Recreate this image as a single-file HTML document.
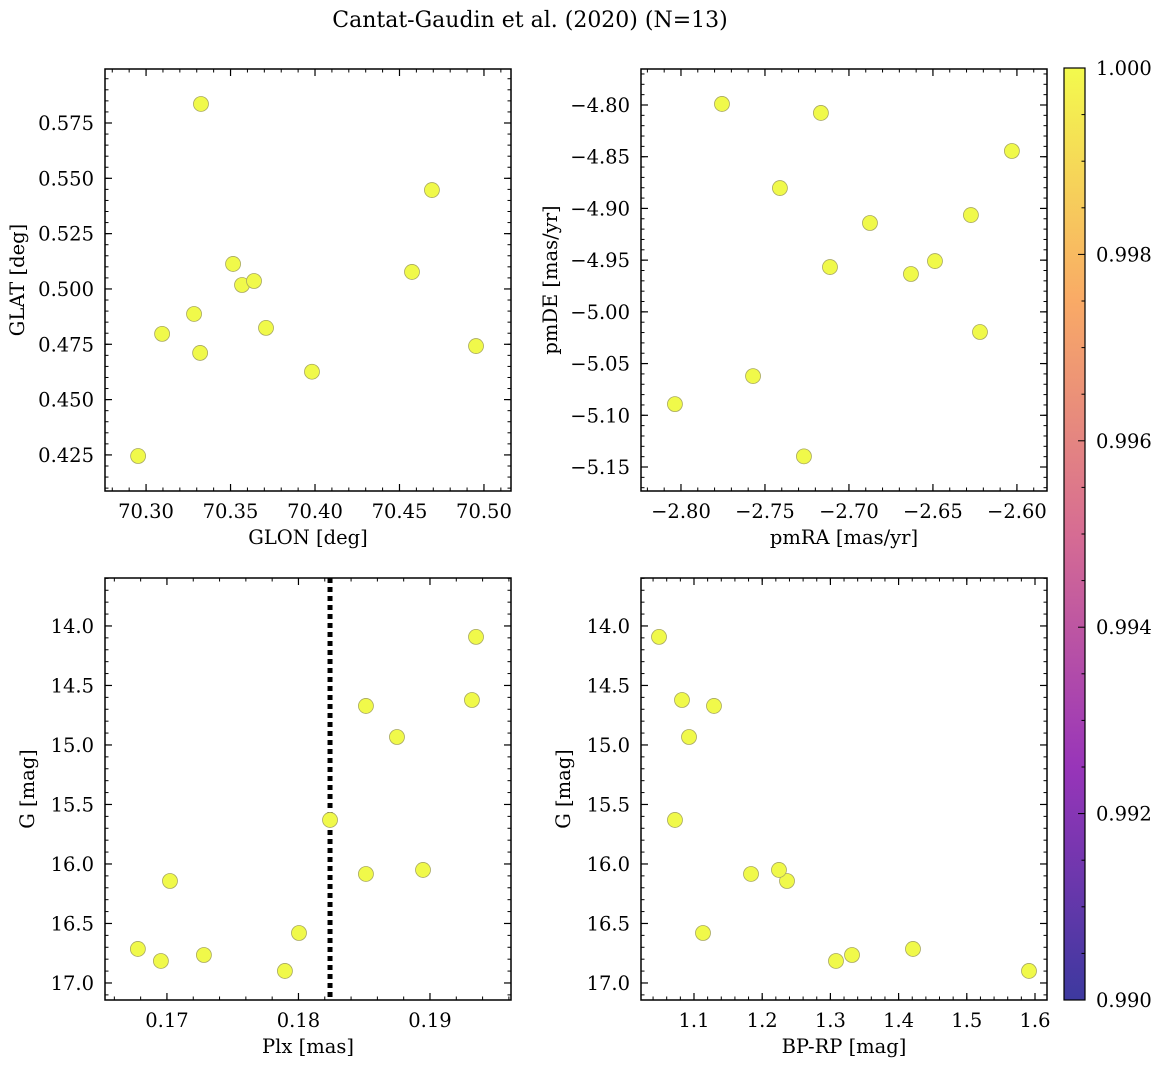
<!DOCTYPE html>
<html><head><meta charset="utf-8"><style>
body{margin:0;background:#fff;}
svg text{font-family:"DejaVu Serif","Liberation Serif",serif;fill:#000;}
</style></head><body>
<svg id="fig" width="1161" height="1068" viewBox="0 0 1161 1068" xmlns="http://www.w3.org/2000/svg">
<defs><linearGradient id="plasma" x1="0" y1="1" x2="0" y2="0">
<stop offset="0" stop-color="#3d399f"/><stop offset="0.25" stop-color="#9835b9"/><stop offset="0.5" stop-color="#d66c93"/><stop offset="0.75" stop-color="#f9aa66"/><stop offset="1" stop-color="#f3fa4d"/>
</linearGradient></defs>
<text x="530" y="27" font-size="22" text-anchor="middle">Cantat-Gaudin et al. (2020) (N=13)</text>
</svg>
<script>
// Panel data
const glon = [70.3325,70.4692,70.3515,70.4574,70.3568,70.3639,70.3284,70.3095,70.3710,70.3320,70.4953,70.3982,70.2953];
const glat = [0.5836,0.5447,0.5113,0.5077,0.5018,0.5036,0.4887,0.4797,0.4824,0.4711,0.4742,0.4626,0.4245];
const pmra = [-2.7756,-2.7167,-2.6030,-2.7411,-2.6875,-2.6274,-2.7113,-2.6631,-2.6488,-2.6220,-2.7571,-2.8036,-2.7268];
const pmde = [-4.799,-4.8077,-4.8445,-4.8803,-4.9141,-4.9064,-4.9567,-4.9634,-4.9509,-5.0195,-5.0621,-5.0892,-5.1397];
const plx = [0.19350,0.19319,0.18513,0.18749,0.18240,0.17023,0.18513,0.18947,0.18004,0.16779,0.16954,0.17281,0.17897];
const gmag = [14.092,14.622,14.672,14.933,15.630,16.143,16.084,16.050,16.580,16.714,16.815,16.765,16.899];
const bprp = [1.0487,1.0824,1.1293,1.0927,1.0721,1.2364,1.1836,1.2246,1.1132,1.4211,1.3082,1.3317,1.5912];
const plxMean = [0.1824];
const cbTicks = ["0.990","0.992","0.994","0.996","0.998","1.000"];

const NS="http://www.w3.org/2000/svg";
const svg=document.getElementById('fig');
function mk(tag,attrs,parent){const e=document.createElementNS(NS,tag);for(const k in attrs)e.setAttribute(k,attrs[k]);(parent||svg).appendChild(e);return e;}
function fmt(v,d){let s=v.toFixed(d);return s.replace('-','\u2212');}
function ticksRange(lo,hi,step){const a=[];const s=Math.ceil(lo/step-1e-6);for(let i=s;i*step<=hi+1e-9;i++)a.push(i*step);return a;}
const FS=19.5;

function panel(name,box,xr,yr,xMaj,xMin,xDec,yMaj,yMin,yDec,xs,ys,xlabel,ylabel,invY,ylx){
  const [L,T,R,B]=box;
  const g=mk('g',{});
  
  
  const sx=v=>L+(v-xr[0])/(xr[1]-xr[0])*(R-L);
  const sy=invY?(v=>T+(v-yr[0])/(yr[1]-yr[0])*(B-T)):(v=>B-(v-yr[0])/(yr[1]-yr[0])*(B-T));
  const ylo=Math.min(yr[0],yr[1]), yhi=Math.max(yr[0],yr[1]);
  ticksRange(xr[0],xr[1],xMin).forEach(v=>{const x=sx(v);
    mk('line',{x1:x,x2:x,y1:B,y2:B-3.5,stroke:'#000','stroke-width':1},g);
    mk('line',{x1:x,x2:x,y1:T,y2:T+3.5,stroke:'#000','stroke-width':1},g);});
  ticksRange(xr[0],xr[1],xMaj).forEach(v=>{const x=sx(v);
    mk('line',{x1:x,x2:x,y1:B,y2:B-7,stroke:'#000','stroke-width':1.2},g);
    mk('line',{x1:x,x2:x,y1:T,y2:T+7,stroke:'#000','stroke-width':1.2},g);
    const t=mk('text',{x:x,y:B+27,'font-size':FS,'text-anchor':'middle'},g);t.textContent=fmt(v,xDec);
    
    });
  ticksRange(ylo,yhi,yMin).forEach(v=>{const y=sy(v);
    mk('line',{x1:L,x2:L+3.5,y1:y,y2:y,stroke:'#000','stroke-width':1},g);
    mk('line',{x1:R,x2:R-3.5,y1:y,y2:y,stroke:'#000','stroke-width':1},g);});
  ticksRange(ylo,yhi,yMaj).forEach(v=>{const y=sy(v);
    mk('line',{x1:L,x2:L+7,y1:y,y2:y,stroke:'#000','stroke-width':1.2},g);
    mk('line',{x1:R,x2:R-7,y1:y,y2:y,stroke:'#000','stroke-width':1.2},g);
    const t=mk('text',{x:L-11,y:y+7,'font-size':FS,'text-anchor':'end'},g);t.textContent=fmt(v,yDec);
    
    });
  const xl=mk('text',{x:(L+R)/2,y:B+53,'font-size':FS,'text-anchor':'middle'},g);xl.textContent=xlabel;
  
  
  const yl=mk('text',{x:0,y:0,'font-size':FS,'text-anchor':'middle',transform:`translate(${ylx},${(T+B)/2}) rotate(-90)`},g);yl.textContent=ylabel;
  
  
  return {g,sx,sy,draw(){
    xs.forEach((v,i)=>{const c=mk('circle',{cx:sx(v),cy:sy(ys[i]),r:7.5,fill:'#f0f94a',stroke:'#a8a860','stroke-width':0.8},g);
      
      });
    const fr=mk('rect',{x:L,y:T,width:R-L,height:B-T,fill:'none',stroke:'#000','stroke-width':1.5},g);
    
    
  }};
}

const p1=panel('glon-glat-panel',[105,69,511,491],[70.2757,70.516],[0.4087,0.5994],0.05,0.01,2,0.025,0.005,3,glon,glat,'GLON [deg]','GLAT [deg]',false,24);
p1.draw();
const p2=panel('pm-panel',[641,69,1047,491],[-2.8238,-2.5821],[-5.1732,-4.7652],0.05,0.01,2,0.05,0.01,2,pmra,pmde,'pmRA [mas/yr]','pmDE [mas/yr]',false,557);
p2.draw();
const p3=panel('plx-g-panel',[105,578,511,1000],[0.16529,0.19616],[13.597,17.143],0.01,0.002,2,0.5,0.1,1,plx,gmag,'Plx [mas]','G [mag]',true,34);
plxMean.forEach(v=>{const ln=mk('line',{x1:p3.sx(v),x2:p3.sx(v),y1:578,y2:1000,stroke:'#000','stroke-width':5,'stroke-dasharray':'5,4'},p3.g);
  
  });
p3.draw();
const p4=panel('cmd-panel',[641,578,1047,1000],[1.0223,1.6176],[13.597,17.143],0.1,0.02,1,0.5,0.1,1,bprp,gmag,'BP-RP [mag]','G [mag]',true,570);
p4.draw();

// colorbar
const cb=mk('g',{});


mk('rect',{x:1064,y:68,width:21,height:932,fill:'url(#plasma)',stroke:'#000','stroke-width':1.2},cb);
const cT=68,cB=1000;
for(let i=0;i<=20;i++){const y=cB-(cB-cT)*i/20;const maj=i%4===0;
  mk('line',{x1:1085,x2:1085-(maj?7:3.5),y1:y,y2:y,stroke:'#000','stroke-width':1},cb);}
cbTicks.forEach((s,i)=>{const y=cB-(cB-cT)*i/(cbTicks.length-1);
  const t=mk('text',{x:1096,y:y+7,'font-size':FS},cb);t.textContent=s;
  
  });
</script>
</body></html>
